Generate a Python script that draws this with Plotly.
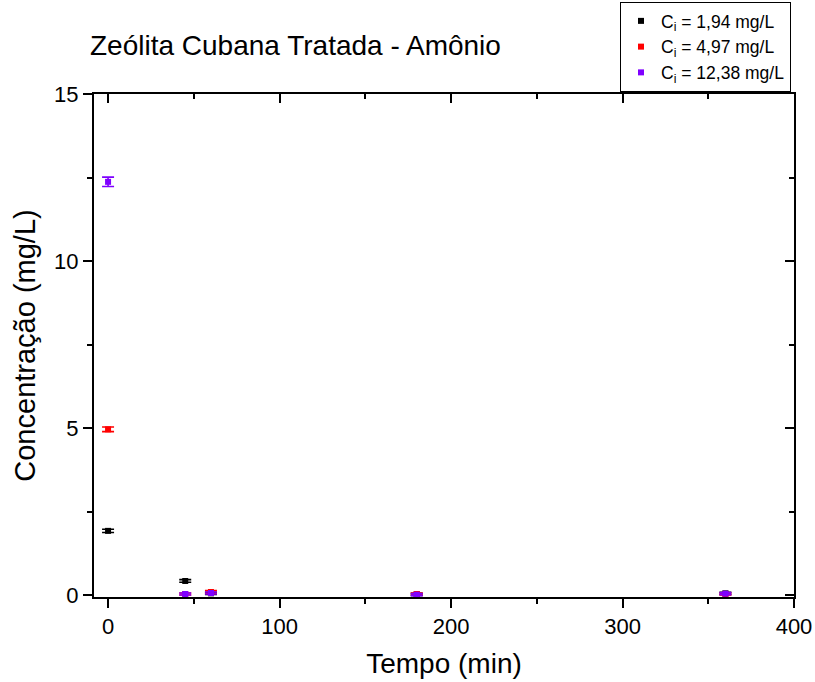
import plotly.graph_objects as go

# Tempo de contato (min)
tempo = [0, 45, 60, 180, 360]

# Concentração de amônio (mg/L) para cada concentração inicial
conc_194 = [1.92, 0.42, 0.05, 0.02, 0.05]
erro_194 = [0.05, 0.04, 0.03, 0.03, 0.03]

conc_497 = [4.96, 0.03, 0.09, 0.03, 0.03]
erro_497 = [0.07, 0.03, 0.04, 0.03, 0.03]

conc_1238 = [12.37, 0.03, 0.06, 0.01, 0.04]
erro_1238 = [0.14, 0.03, 0.03, 0.03, 0.03]

nomes = ["C<sub>i</sub> = 1,94 mg/L", "C<sub>i</sub> = 4,97 mg/L", "C<sub>i</sub> = 12,38 mg/L"]
cores = ["#000000", "#ff0000", "#7f00ff"]
series = [(conc_194, erro_194), (conc_497, erro_497), (conc_1238, erro_1238)]

FONT = "Liberation Sans, Arial, sans-serif"
x_range = [-8.2, 400]
y_range = [-0.06, 15]

fig = go.Figure()
for nome, cor, (y, e) in zip(nomes, cores, series):
    fig.add_trace(go.Scatter(
        x=tempo, y=y, mode="markers", name=nome,
        marker=dict(symbol="square", size=6, color=cor, line=dict(width=0)),
        error_y=dict(type="data", array=e, visible=True, color=cor,
                     thickness=1.6, width=6),
    ))

# traço auxiliar para os eixos espelhados (topo e direita)
fig.add_trace(go.Scatter(x=[None], y=[None], xaxis="x2", yaxis="y2",
                         showlegend=False, hoverinfo="skip"))

fig.update_layout(
    width=815, height=682,
    paper_bgcolor="white", plot_bgcolor="white",
    margin=dict(l=94, r=21, t=94, b=85, autoexpand=False),
    font=dict(family=FONT, color="black"),
    title=dict(text="Zeólita Cubana Tratada - Amônio", x=90 / 815, xanchor="left",
               y=1 - 45 / 682, yanchor="middle",
               font=dict(family=FONT, size=28, color="black")),
    legend=dict(x=(620 - 94) / 700, y=(597 - 2) / 503, xanchor="left", yanchor="top",
                bordercolor="black", borderwidth=1, bgcolor="white",
                font=dict(family=FONT, size=17.5, color="black"),
                tracegroupgap=0, itemwidth=30),
    xaxis=dict(range=x_range, showgrid=False, zeroline=False,
               showline=True, linecolor="black", linewidth=2,
               ticks="outside", ticklen=9, tickwidth=2, tickcolor="black",
               tick0=0, dtick=100,
               minor=dict(ticks="outside", ticklen=5, tickwidth=2, tickcolor="black", dtick=50),
               tickfont=dict(family=FONT, size=22),
               title=dict(text="Tempo (min)", font=dict(family=FONT, size=28), standoff=15)),
    yaxis=dict(range=y_range, showgrid=False, zeroline=False,
               showline=True, linecolor="black", linewidth=2,
               ticks="outside", ticklen=9, tickwidth=2, tickcolor="black",
               tick0=0, dtick=5,
               minor=dict(ticks="outside", ticklen=5, tickwidth=2, tickcolor="black", dtick=2.5),
               tickfont=dict(family=FONT, size=22),
               title=dict(text="Concentração (mg/L)", font=dict(family=FONT, size=29), standoff=10)),
    xaxis2=dict(range=x_range, overlaying="x", side="top", anchor="y2",
                showgrid=False, zeroline=False, showticklabels=False,
                showline=True, linecolor="black", linewidth=2,
                ticks="inside", ticklen=9, tickwidth=2, tickcolor="black",
                tick0=0, dtick=100,
                minor=dict(ticks="inside", ticklen=5, tickwidth=2, tickcolor="black", dtick=50)),
    yaxis2=dict(range=y_range, overlaying="y", side="right", anchor="x2",
                showgrid=False, zeroline=False, showticklabels=False,
                showline=True, linecolor="black", linewidth=2,
                ticks="inside", ticklen=9, tickwidth=2, tickcolor="black",
                tick0=0, dtick=5,
                minor=dict(ticks="inside", ticklen=5, tickwidth=2, tickcolor="black", dtick=2.5)),
)

fig.write_html("out.html")
